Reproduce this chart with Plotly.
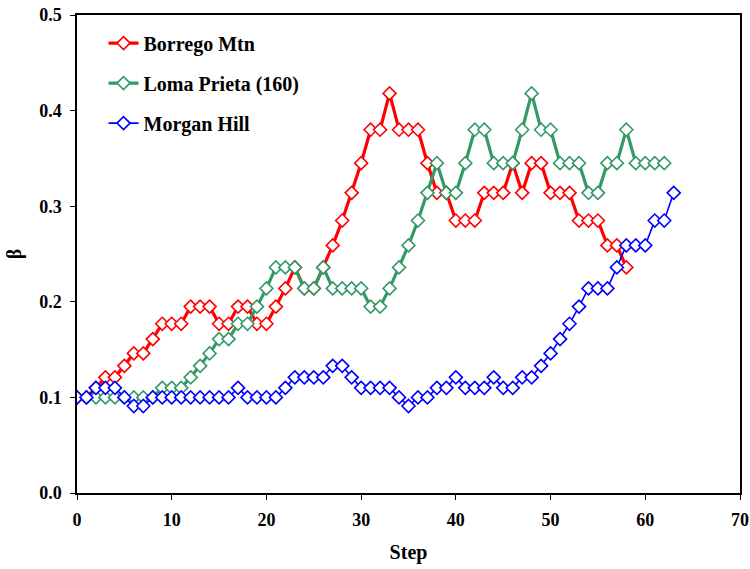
import plotly.graph_objects as go

# Step index and beta values for each record
borrego_beta = [0.1, 0.1, 0.11, 0.121, 0.121, 0.133, 0.146, 0.146, 0.161, 0.177,
                0.177, 0.177, 0.195, 0.195, 0.195, 0.177, 0.177, 0.195, 0.195, 0.177,
                0.177, 0.195, 0.214, 0.236, 0.214, 0.214, 0.236, 0.259, 0.285, 0.314,
                0.345, 0.38, 0.38, 0.418, 0.38, 0.38, 0.38, 0.345, 0.314, 0.314,
                0.285, 0.285, 0.285, 0.314, 0.314, 0.314, 0.345, 0.314, 0.345, 0.345,
                0.314, 0.314, 0.314, 0.285, 0.285, 0.285, 0.259, 0.259, 0.236]

loma_beta = [0.1, 0.1, 0.1, 0.1, 0.1, 0.1, 0.1, 0.1, 0.1, 0.11,
             0.11, 0.11, 0.121, 0.133, 0.146, 0.161, 0.161, 0.177, 0.177, 0.195,
             0.214, 0.236, 0.236, 0.236, 0.214, 0.214, 0.236, 0.214, 0.214, 0.214,
             0.214, 0.195, 0.195, 0.214, 0.236, 0.259, 0.285, 0.314, 0.345, 0.314,
             0.314, 0.345, 0.38, 0.38, 0.345, 0.345, 0.345, 0.38, 0.418, 0.38,
             0.38, 0.345, 0.345, 0.345, 0.314, 0.314, 0.345, 0.345, 0.38, 0.345,
             0.345, 0.345, 0.345]

morgan_beta = [0.1, 0.1, 0.11, 0.11, 0.11, 0.1, 0.091, 0.091, 0.1, 0.1,
               0.1, 0.1, 0.1, 0.1, 0.1, 0.1, 0.1, 0.11, 0.1, 0.1,
               0.1, 0.1, 0.11, 0.121, 0.121, 0.121, 0.121, 0.133, 0.133, 0.121,
               0.11, 0.11, 0.11, 0.11, 0.1, 0.091, 0.1, 0.1, 0.11, 0.11,
               0.121, 0.11, 0.11, 0.11, 0.121, 0.11, 0.11, 0.121, 0.121, 0.133,
               0.146, 0.161, 0.177, 0.195, 0.214, 0.214, 0.214, 0.236, 0.259, 0.259,
               0.259, 0.285, 0.285, 0.314]

series_names = ["Borrego Mtn", "Loma Prieta (160)", "Morgan Hill"]
series_colors = ["#FF0000", "#339966", "#0000FF"]
x_ticks = [0, 10, 20, 30, 40, 50, 60, 70]
y_ticks = [0.0, 0.1, 0.2, 0.3, 0.4, 0.5]

FONT = "Liberation Serif"

fig = go.Figure()
for name, vals, color, lw in zip(series_names,
                                 [borrego_beta, loma_beta, morgan_beta],
                                 series_colors, [3.2, 3.2, 1.6]):
    fig.add_trace(go.Scatter(
        x=list(range(len(vals))), y=vals, name=name, mode="lines+markers",
        legendgroup=name,
        line=dict(color=color, width=lw),
        marker=dict(symbol="diamond", size=10, color="white",
                    line=dict(color=color, width=1.6)),
    ))

axis_common = dict(
    showgrid=False, zeroline=False, showline=True, linecolor="black",
    linewidth=1.5, mirror=True, ticks="outside", ticklen=5, tickwidth=1,
    tickcolor="black", automargin=False,
    tickfont=dict(family=FONT, size=18, color="black", weight="bold"),
)

title_font = dict(family=FONT, size=20, color="black", weight="bold")

fig.update_layout(
    width=750, height=569,
    margin=dict(l=77, r=10, t=15, b=76),
    paper_bgcolor="white", plot_bgcolor="white",
    showlegend=True,
    legend=dict(x=0.04, y=0.982, xanchor="left", yanchor="top",
                bgcolor="rgba(0,0,0,0)", tracegroupgap=11,
                font=dict(family=FONT, size=20, color="black", weight="bold")),
    xaxis=dict(range=[0, 70], tickvals=x_ticks, ticklabelstandoff=5,
               title=dict(text="Step", standoff=16, font=title_font),
               **axis_common),
    yaxis=dict(range=[0, 0.5], tickvals=y_ticks, tickformat=".1f", ticklabelstandoff=5,
               title=dict(text="β", standoff=12, font=title_font),
               **axis_common),
)

fig.write_html("out.html")
